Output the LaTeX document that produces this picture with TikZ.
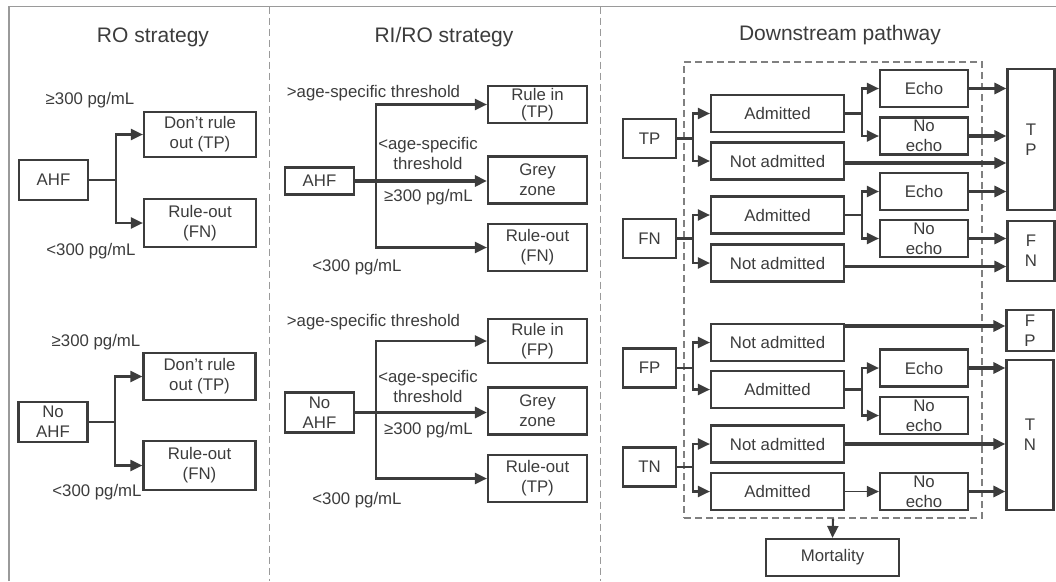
\documentclass[tikz,border=0pt]{standalone}
\usepackage{fontspec}
\setmainfont{Liberation Sans}
\usetikzlibrary{arrows.meta}
\definecolor{ink}{HTML}{3C3C3C}
\definecolor{framec}{HTML}{9A9A9A}
\definecolor{dashc}{HTML}{808080}
\begin{document}
\begin{tikzpicture}[x=1pt,y=-1pt,
  box/.style={draw=ink, line width=2.2pt, text=ink, align=center, inner sep=0pt, font=\fontsize{16.8}{20}\selectfont},
  lbl/.style={text=ink, align=center, inner sep=0pt, font=\fontsize{16.8}{20}\selectfont},
  ttl/.style={text=ink, inner sep=0pt, font=\fontsize{21}{25}\selectfont},
  ln/.style={draw=ink, line width=2.1pt},
  arr/.style={draw=ink, line width=2.1pt, -{Triangle[length=12pt,width=11pt]}},
  thinarr/.style={draw=ink, line width=1.4pt, -{Triangle[length=12pt,width=11pt]}},
  thk/.style={draw=ink, line width=3.2pt, -{Triangle[length=12pt,width=11pt]}},
  ph/.style={box, minimum width=69, minimum height=40},
  sb/.style={box, minimum width=112},
  mb/.style={box, minimum width=99},
  db/.style={box, minimum width=133, minimum height=37},
  eb/.style={box, minimum width=88, minimum height=37},
  cb/.style={box, minimum width=53, minimum height=39},
  bb/.style={box, minimum width=47},
]
\useasboundingbox (0,0) rectangle (1056,581);
% frame and dividers
\draw[framec, line width=1.4pt] (9,581) -- (9,6.5) -- (1057,6.5);
\draw[framec, line width=1.2pt, dash pattern=on 7pt off 4pt] (269.5,6.5) -- (269.5,581);
\draw[framec, line width=1.2pt, dash pattern=on 7pt off 4pt] (600.5,6.5) -- (600.5,581);

% titles
\node[ttl] (t1) at (153,37) {RO strategy};
\node[ttl] (t2) at (444,37) {RI/RO strategy};
\node[ttl] (t3) at (840,35) {Downstream pathway};

% ---------- Panel 1 ----------
\node[ph] (ahfA) at (53.5,180) {AHF};
\node[sb, minimum height=45] (droA) at (200,134.5) {Don’t rule\\out (TP)};
\node[sb, minimum height=48] (roA) at (200,223) {Rule-out\\(FN)};
\coordinate (bA) at (116,180);
\draw[ln] (ahfA.east) -- (bA);
\draw[arr] (bA) |- (droA.west);
\draw[arr] (bA) |- (roA.west);
\node[lbl] (lA1) at (90,100) {≥300 pg/mL};
\node[lbl] (lA2) at (91,251) {<300 pg/mL};

\node[ph] (ahfB) at (53,422) {No\\AHF};
\node[sb, minimum height=47] (droB) at (199.5,376.5) {Don’t rule\\out (TP)};
\node[sb, minimum height=49] (roB) at (199.5,465.5) {Rule-out\\(FN)};
\coordinate (bB) at (115,422);
\draw[ln] (ahfB.east) -- (bB);
\draw[arr] (bB) |- (droB.west);
\draw[arr] (bB) |- (roB.west);
\node[lbl] (lB1) at (96,342) {≥300 pg/mL};
\node[lbl] (lB2) at (97,492) {<300 pg/mL};

% ---------- Panel 2 ----------
\node[box, minimum width=69, minimum height=27] (ahfC) at (319.5,181) {AHF};
\node[mb, minimum height=37, font=\fontsize{16.8}{17.5}\selectfont] (riC) at (537.5,104.5) {Rule in\\(TP)};
\node[mb, minimum height=47] (grC) at (537.5,180) {Grey\\zone};
\node[mb, minimum height=47] (roC) at (537.5,247.5) {Rule-out\\(FN)};
\coordinate (bC) at (376,181);
\draw[arr] (bC) |- (riC.west);
\draw[arr] (bC) |- (roC.west);
\draw[thk] (ahfC.east) -- (ahfC.east -| grC.west);
\node[lbl] (lC1) at (373.5,93) {>age-specific threshold};
\node[lbl] (lC2) at (428,153) {<age-specific\\threshold};
\node[lbl] (lC3) at (428.5,197) {≥300 pg/mL};
\node[lbl] (lC4) at (357,267) {<300 pg/mL};

\node[ph] (ahfD) at (319.5,412.5) {No\\AHF};
\node[mb, minimum height=44] (riD) at (537.5,341) {Rule in\\(FP)};
\node[mb, minimum height=47] (grD) at (537.5,411) {Grey\\zone};
\node[mb, minimum height=47] (roD) at (537.5,478.5) {Rule-out\\(TP)};
\coordinate (bD) at (376,412.5);
\draw[arr] (bD) |- (riD.west);
\draw[arr] (bD) |- (roD.west);
\draw[thk] (ahfD.east) -- (ahfD.east -| grD.west);
\node[lbl] (lD1) at (373.5,322) {>age-specific threshold};
\node[lbl] (lD2) at (428,386) {<age-specific\\threshold};
\node[lbl] (lD3) at (428.5,430) {≥300 pg/mL};
\node[lbl] (lD4) at (357,500) {<300 pg/mL};

% ---------- Panel 3 ----------
\node[draw=dashc, line width=1.1pt, dash pattern=on 7pt off 4pt, minimum width=298, minimum height=456, inner sep=0pt] (dbox) at (833,290) {};

% big outcome boxes
\node[bb, minimum height=141] (oTP) at (1031,139.5) {T\\P};
\node[bb, minimum height=60] (oFN) at (1031,251) {F\\N};
\node[bb, minimum height=41] (oFP) at (1030,330.5) {F\\P};
\node[bb, minimum height=150] (oTN) at (1030,435) {T\\N};

% TP group
\node[cb] (cTP) at (649.5,138.5) {TP};
\node[db] (adm1) at (777.5,113.5) {Admitted};
\node[db] (nad1) at (777.5,161) {Not admitted};
\node[eb] (ech1) at (924,88.5) {Echo};
\node[eb] (noe1) at (924,136) {No\\echo};
\coordinate (b1) at (693,138.5);
\draw[ln] (cTP.east) -- (b1);
\draw[arr] (b1) |- (adm1.west);
\draw[arr] (b1) |- (nad1.west);
\coordinate (b1r) at (862,113.5);
\draw[ln] (adm1.east) -- (b1r);
\draw[arr] (b1r) |- (ech1.west);
\draw[arr] (b1r) |- (noe1.west);
\draw[thk] (ech1.east) -- (ech1.east -| oTP.west);
\draw[thk] (noe1.east) -- (noe1.east -| oTP.west);
\draw[thk] ([yshift=-2pt]nad1.east) -- ([yshift=-2pt]nad1.east -| oTP.west);

% FN group
\node[cb] (cFN) at (649.5,238.5) {FN};
\node[db] (adm2) at (777.5,215) {Admitted};
\node[db] (nad2) at (777.5,263) {Not admitted};
\node[eb] (ech2) at (924,191.5) {Echo};
\node[eb] (noe2) at (924,238.5) {No\\echo};
\coordinate (b2) at (693,238.5);
\draw[ln] (cFN.east) -- (b2);
\draw[arr] (b2) |- (adm2.west);
\draw[arr] (b2) |- (nad2.west);
\coordinate (b2r) at (862,215);
\draw[ln] (adm2.east) -- (b2r);
\draw[arr] (b2r) |- (ech2.west);
\draw[arr] (b2r) |- (noe2.west);
\draw[thk] (ech2.east) -- (ech2.east -| oTP.west);
\draw[thk] (noe2.east) -- (noe2.east -| oFN.west);
\draw[thk] ([yshift=-3.5pt]nad2.east) -- ([yshift=-3.5pt]nad2.east -| oFN.west);

% FP group
\node[cb] (cFP) at (649.5,368) {FP};
\node[db] (nad3) at (777.5,342.5) {Not admitted};
\node[db] (adm3) at (777.5,389.5) {Admitted};
\node[eb] (ech3) at (924,368) {Echo};
\node[eb] (noe3) at (924,415.5) {No\\echo};
\coordinate (b3) at (693,368);
\draw[ln] (cFP.east) -- (b3);
\draw[arr] (b3) |- (nad3.west);
\draw[arr] (b3) |- (adm3.west);
\coordinate (b3r) at (862,389.5);
\draw[ln] (adm3.east) -- (b3r);
\draw[arr] (b3r) |- (ech3.west);
\draw[arr] (b3r) |- (noe3.west);
\draw[thk] ([yshift=4.5pt]oFP.west -| nad3.east) -- ([yshift=4.5pt]oFP.west);
\draw[thk] (ech3.east) -- (ech3.east -| oTN.west);

% TN group
\node[cb] (cTN) at (649.5,467) {TN};
\node[db] (nad4) at (777.5,444) {Not admitted};
\node[db] (adm4) at (777.5,491.5) {Admitted};
\node[eb] (noe4) at (924,491.5) {No\\echo};
\coordinate (b4) at (693,467);
\draw[ln] (cTN.east) -- (b4);
\draw[arr] (b4) |- (nad4.west);
\draw[arr] (b4) |- (adm4.west);
\draw[thinarr] (adm4.east) -- (noe4.west);
\draw[thk] (nad4.east) -- (nad4.east -| oTN.west);
\draw[thk] (noe4.east) -- (noe4.east -| oTN.west);

% mortality
\node[db] (mort) at (832.5,557.5) {Mortality};
\draw[arr] (dbox.south) -- (mort.north);
\end{tikzpicture}
\end{document}
